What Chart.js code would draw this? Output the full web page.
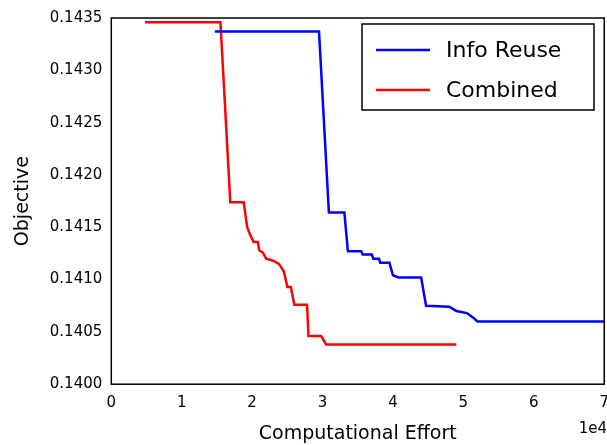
<!DOCTYPE html>
<html><head><meta charset="utf-8">
<script src="https://cdn.jsdelivr.net/npm/chart.js@4"></script>
<style>body{margin:0;background:#fff;overflow:hidden}#c{width:619px;height:445px}</style>
</head><body><div id="c"><canvas id="chart"></canvas></div>
<script>
// Info Reuse (x in units of 1e4)
const reuseX = [1.47, 2.95, 3.09, 3.31, 3.36, 3.55, 3.57, 3.7, 3.72, 3.8, 3.82, 3.95, 4.0, 4.08, 4.4, 4.47, 4.8, 4.9, 5.05, 5.15, 5.2, 7.0];
const reuseY = [0.14337, 0.14337, 0.14164, 0.14164, 0.14127, 0.14127, 0.14124, 0.14124, 0.1412, 0.1412, 0.14116, 0.14116, 0.14104, 0.14102, 0.14102, 0.14075, 0.14074, 0.1407, 0.14068, 0.14063, 0.1406, 0.1406];
// Combined
const combX = [0.48, 1.55, 1.69, 1.88, 1.93, 1.97, 2.02, 2.08, 2.1, 2.15, 2.2, 2.3, 2.38, 2.45, 2.5, 2.55, 2.6, 2.78, 2.8, 2.98, 3.05, 4.9];
const combY = [0.14346, 0.14346, 0.14174, 0.14174, 0.1415, 0.14143, 0.14136, 0.14136, 0.14128, 0.14126, 0.1412, 0.14118, 0.14115, 0.14108, 0.14093, 0.14093, 0.14076, 0.14076, 0.14046, 0.14046, 0.14038, 0.14038];

const pts = (xs, ys) => xs.map((x, i) => ({ x: x, y: ys[i] }));
const font = { family: 'DejaVu Sans', size: 15 };

const frame = {
  id: 'frame',
  afterDraw(c) {
    const { ctx, chartArea: a } = c;
    ctx.save();
    ctx.strokeStyle = '#000'; ctx.lineWidth = 1.5;
    ctx.strokeRect(a.left, a.top, a.right - a.left, a.bottom - a.top);
    ctx.fillStyle = '#000'; ctx.font = '15px DejaVu Sans'; ctx.textAlign = 'right';
    ctx.fillText('1e4', 607, 433);
    // legend
    const lx = 362, ly = 24, w = 232, h = 86;
    ctx.fillStyle = '#fff'; ctx.fillRect(lx, ly, w, h);
    ctx.lineWidth = 1.5; ctx.strokeRect(lx, ly, w, h);
    ctx.font = '22px DejaVu Sans'; ctx.textAlign = 'left'; ctx.textBaseline = 'middle';
    [['Info Reuse', '#0000ff', 50], ['Combined', '#ff0000', 90]].forEach(([t, col, y]) => {
      ctx.strokeStyle = col; ctx.lineWidth = 2.5;
      ctx.beginPath(); ctx.moveTo(376, y); ctx.lineTo(430, y); ctx.stroke();
      ctx.fillStyle = '#000'; ctx.fillText(t, 446, y + 1);
    });
    ctx.restore();
  }
};

new Chart(document.getElementById('chart'), {
  type: 'line',
  data: {
    datasets: [
      { label: 'Info Reuse', data: pts(reuseX, reuseY), borderColor: '#0000ff', borderWidth: 2.5, pointRadius: 0, tension: 0 },
      { label: 'Combined', data: pts(combX, combY), borderColor: '#ff0000', borderWidth: 2.5, pointRadius: 0, tension: 0 }
    ]
  },
  options: {
    responsive: true, maintainAspectRatio: false, animation: false,
    layout: { padding: { top: 8, right: 0, bottom: 0, left: 8 } },
    plugins: { legend: { display: false }, tooltip: { enabled: false } },
    scales: {
      x: {
        type: 'linear', min: 0, max: 7,
        ticks: { stepSize: 1, font: font, color: '#000', padding: 10 },
        grid: { display: false, drawTicks: false },
        border: { display: false },
        title: { display: true, text: 'Computational Effort', font: { family: 'DejaVu Sans', size: 19 }, color: '#000', padding: 0 }
      },
      y: {
        min: 0.14, max: 0.1435,
        ticks: { stepSize: 0.0005, font: font, color: '#000', padding: 9, callback: v => v.toFixed(4) },
        grid: { display: false, drawTicks: false },
        border: { display: false },
        title: { display: true, text: 'Objective', font: { family: 'DejaVu Sans', size: 19 }, color: '#000', padding: { bottom: 6 } }
      }
    }
  },
  plugins: [frame]
});
</script></body></html>
